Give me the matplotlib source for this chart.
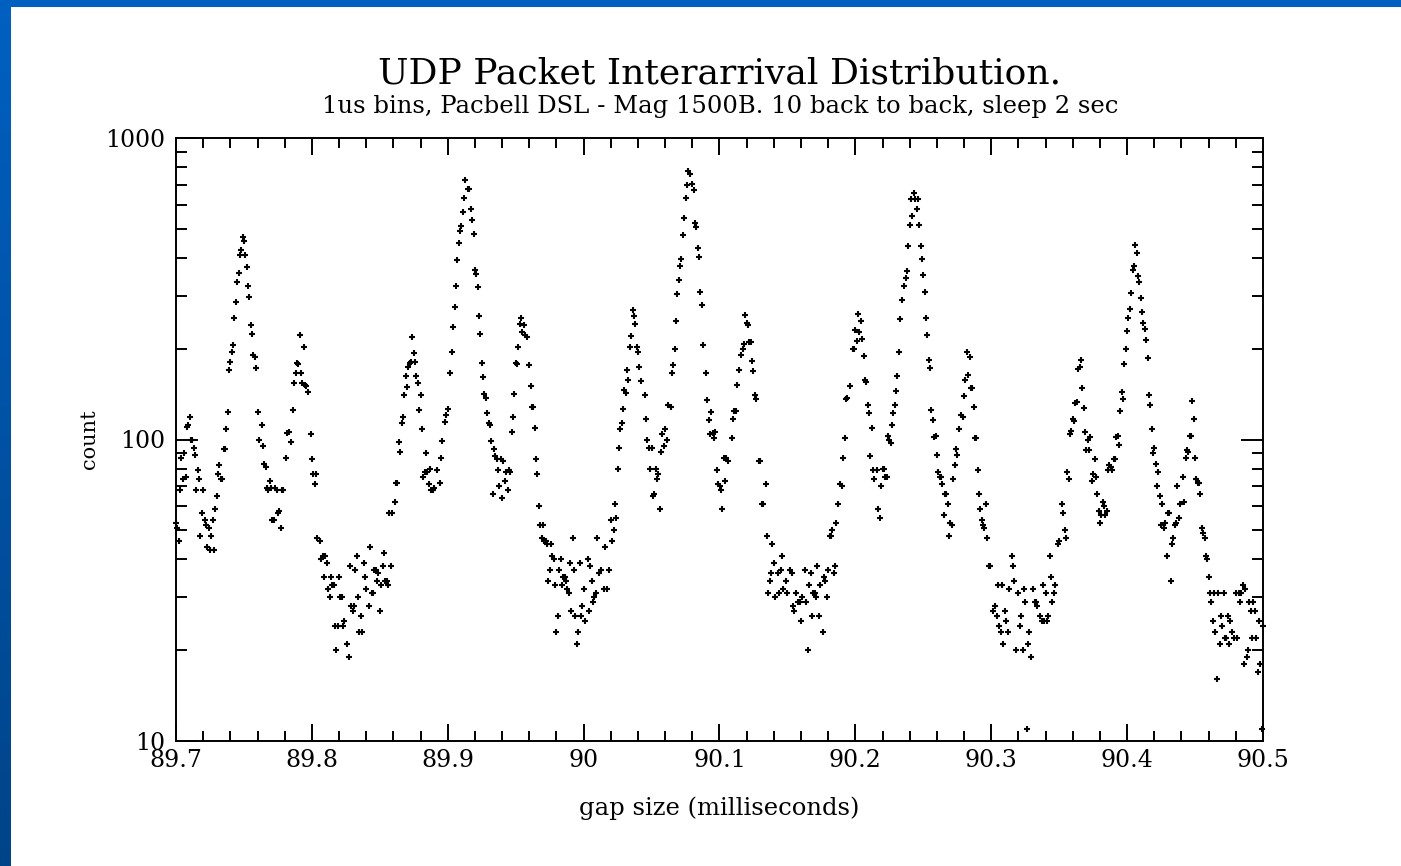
import numpy as np
import matplotlib.pyplot as plt
from matplotlib.patches import Rectangle
from matplotlib.ticker import LogLocator, NullFormatter

# gap offsets (microseconds after 89.7 ms) and bin counts
gap_us = [
    0, 1, 2, 3, 4, 5, 6, 7, 8, 9, 10, 11, 12, 13, 14, 15, 16, 17, 18, 19,
    20, 21, 22, 23, 24, 25, 26, 27, 28, 29, 30, 31, 32, 33, 34, 35, 36, 37, 38, 39,
    40, 41, 42, 43, 44, 45, 46, 47, 48, 49, 50, 51, 52, 53, 54, 55, 56, 57, 58, 59,
    60, 61, 63, 64, 65, 66, 67, 68, 69, 70, 71, 72, 73, 74, 75, 76, 77, 78, 79,
    81, 82, 83, 85, 86, 87, 88, 89, 90, 91, 92, 93, 94, 95, 96, 97, 99,
    100, 101, 102, 103, 104, 106, 107, 108, 109, 110, 111, 112, 113, 114, 115, 116, 117, 118, 119,
    120, 121, 122, 123, 124, 126, 127, 128, 129, 130, 131, 132, 133, 134, 135,
    136, 137, 138, 139, 140, 142, 143, 144, 145, 146, 147, 148, 149, 150, 151, 152, 153, 154, 155,
    156, 157, 158, 159, 161, 162, 163, 164, 165, 166, 167, 168, 169, 170, 171, 172, 173, 174, 175,
    176, 177, 178, 179, 180, 181, 182, 183, 184, 185, 186, 187, 188, 189, 190, 192, 194, 195, 196,
    198, 199, 200, 202, 203, 204, 205, 206, 207, 208, 209, 210, 211, 212, 213, 215, 216, 217, 218,
    219, 220, 221, 222, 223, 224, 225, 226, 227, 228, 229, 230, 231, 232, 233, 234, 235, 236, 237,
    238, 239, 240, 241, 242, 243, 244, 245, 246, 247, 248, 249, 250, 251, 252, 253, 254, 255, 256,
    257, 258, 260, 261, 262, 263, 264, 265, 266, 267, 268, 269,
    270, 271, 272, 273, 274, 275, 276, 277, 278, 279, 280, 281, 282, 283, 284, 285, 286, 287, 288,
    289, 290, 291, 292, 293, 294, 295, 296, 297, 298, 299, 300, 301, 303, 304, 305, 306, 307, 308,
    309, 310, 311, 313, 315, 316, 317, 319, 320, 321, 322, 323, 324, 325, 326, 327, 328, 329, 330,
    331, 332, 333, 334, 335, 336, 337, 338, 339, 340, 341, 342, 345, 346, 347, 348, 349, 350, 351,
    352, 353, 354, 355, 356, 357, 358, 359, 360, 361, 362, 364, 365, 366, 367, 368, 369, 370, 371,
    372, 373, 374, 375, 376, 377, 378, 380, 381, 382, 383, 384, 385, 386, 387, 388, 390, 391, 392,
    393, 394, 395, 396, 397, 398, 399,
    400, 401, 402, 403, 404, 405, 406, 409, 410, 411, 412, 413, 414, 416, 417, 418, 419, 420, 421,
    422, 423, 424, 425, 426, 427, 429, 430, 431, 432, 434, 435, 436, 437, 438, 439, 440, 441, 443,
    444, 445, 446, 447, 449, 450, 452, 453, 454, 455, 456, 458, 459, 460, 461, 463, 464, 465, 466,
    467, 468, 469, 470, 471, 472, 473, 474, 476, 477, 478, 479, 480, 481, 482, 483, 484, 485, 486,
    487, 489, 490, 491, 492, 493, 494, 496, 498, 499, 500, 501, 502, 503, 504, 505, 506, 507, 508,
    509, 510, 511, 512, 513, 514, 516, 517, 518, 519, 520, 521, 522, 523, 524, 525, 526, 527, 528,
    529, 530, 531, 532, 533, 534,
    536, 537, 538, 539, 540, 541, 542, 543, 544, 545, 546, 547, 548, 549, 550, 551, 552, 553, 554,
    555, 556, 557, 558, 559, 560, 561, 562, 563, 564, 565, 566, 567, 568, 569, 570, 571, 572, 573,
    574, 575, 576, 578, 579, 580, 581, 582, 583, 584, 585, 586, 587, 588, 589, 590, 591, 592, 593,
    594, 595, 596, 597, 598, 599, 601, 603, 604, 605, 606, 607, 608, 609, 610, 611, 612, 613, 615,
    616, 617, 618, 620, 621, 622, 623, 624, 625, 626, 627, 628, 629, 631, 632, 633, 634, 636, 637,
    638, 639, 640, 641, 642, 643, 644, 645, 646, 647, 649, 650, 652, 653, 654, 655, 656, 657, 658,
    659, 660, 661, 662, 663, 664, 665,
    666, 667, 668, 669, 670, 671, 672, 673, 674, 675, 676, 677, 678, 679, 680, 681, 682, 683, 684,
    685, 686, 687, 688, 689, 690, 691, 692, 693, 694, 695, 696, 697, 698, 699, 700, 701, 702, 703,
    704, 705, 706, 707, 708, 709, 710, 711, 712, 713, 714, 715, 716, 717, 718, 719, 720, 721, 722,
    723, 724, 725, 726, 727, 728, 729, 730, 731, 732, 733, 734, 735, 736, 737, 738, 739, 741, 742,
    743, 744, 745, 746, 747, 748, 749, 750, 751, 752, 753, 754, 755, 756, 757, 758, 759, 760, 761,
    762, 763, 764, 765, 766, 767, 768, 769, 770, 771, 772, 773, 774, 775, 776, 777, 779, 780, 781,
    782, 783, 784, 785, 786, 787, 788, 789, 790, 791, 792, 793, 794, 795, 796, 797, 798, 799, 800,
]

counts = [
    53, 51, 46, 68, 87, 74, 90, 75, 110, 112, 119, 100, 100, 94, 89, 68, 79, 74, 48, 57,
    68, 54, 52, 44, 51, 43, 48, 54, 43, 59, 65, 77, 82, 74, 74, 93, 93, 108, 123, 170,
    181, 195, 206, 253, 285, 333, 357, 410, 425, 468, 457, 408, 373, 324, 297, 240, 224, 191, 188, 172,
    123, 100, 112, 95, 83, 81, 69, 68, 73, 69, 54, 54, 69, 68, 57, 58, 51, 68, 68,
    87, 105, 106, 98, 125, 154, 166, 180, 178, 222, 166, 154, 202, 152, 150, 144, 104,
    86, 77, 71, 77, 47, 46, 40, 41, 35, 41, 39, 32, 30, 35, 33, 33, 24, 20, 24,
    35, 30, 30, 24, 25, 21, 19, 38, 28, 27, 28, 37, 41, 30, 23,
    26, 23, 39, 35, 32, 28, 44, 31, 31, 37, 37, 34, 36, 27, 33, 38, 42, 34, 34,
    33, 57, 38, 57, 62, 72, 72, 98, 91, 113, 119, 140, 163, 149, 174, 179, 181, 218, 193,
    181, 163, 154, 125, 141, 108, 75, 78, 90, 78, 71, 80, 68, 68, 69, 79, 72, 87, 99,
    114, 121, 126, 166, 195, 237, 276, 324, 395, 447, 492, 511, 567, 633, 728, 676, 679, 581, 536,
    482, 364, 353, 321, 256, 224, 179, 161, 142, 137, 122, 113, 112, 99, 66, 93, 88, 86, 79,
    70, 86, 64, 85, 73, 78, 68, 79, 78, 106, 119, 142, 179, 178, 202, 242, 253, 228, 240,
    222, 218, 176, 151, 128, 128, 109, 86, 77, 60, 52, 47,
    52, 46, 46, 45, 34, 37, 45, 41, 40, 33, 23, 26, 37, 40, 33, 35, 35, 34, 32,
    31, 39, 27, 47, 37, 26, 21, 23, 39, 26, 28, 32, 25, 40, 27, 38, 34, 29, 30,
    31, 47, 36, 37, 32, 44, 32, 37, 54, 46, 50, 61, 55, 80, 94, 108, 113, 126, 146,
    143, 170, 158, 203, 221, 269, 256, 242, 203, 195, 174, 156, 140, 117, 100, 94, 80, 94, 65,
    66, 80, 74, 77, 59, 91, 104, 95, 108, 100, 130, 128, 166, 176, 199, 248, 304, 337, 376,
    398, 477, 544, 633, 697, 780, 762, 706, 670, 523, 507, 433, 402, 308, 280, 206, 166, 135, 116,
    104, 123, 105, 101, 106, 79, 71,
    70, 68, 59, 87, 73, 87, 85, 101, 117, 124, 124, 152, 170, 191, 199, 208, 259, 244, 240,
    211, 211, 182, 169, 140, 136, 85, 85, 61, 61, 71, 48, 31, 34, 36, 45, 39, 30, 36,
    31, 37, 41, 32, 34, 31, 37, 36, 28, 27, 31, 29, 29, 25, 30, 37, 29, 20, 33,
    36, 26, 31, 31, 30, 38, 26, 33, 23, 35, 34, 30, 37, 48, 48, 50, 36, 38, 53,
    61, 71, 70, 87, 101, 136, 137, 150, 199, 199, 231, 212, 261, 228, 247, 215, 189, 158, 155,
    130, 122, 88, 109, 79, 74, 79, 59, 55, 70, 80, 80, 75, 75, 103, 100, 97, 112, 122,
    130, 145, 163, 195, 251, 290,
    324, 343, 361, 438, 515, 627, 551, 659, 627, 581, 627, 515, 438, 398, 350, 308, 253, 222, 183,
    172, 125, 116, 102, 103, 89, 78, 75, 75, 71, 56, 66, 66, 61, 48, 53, 52, 74, 82,
    93, 89, 108, 121, 119, 139, 158, 195, 164, 188, 148, 148, 128, 101, 101, 79, 66, 59, 54,
    52, 51, 61, 47, 38, 38, 27, 28, 26, 33, 24, 23, 33, 21, 27, 25, 23, 32, 41,
    38, 34, 20, 31, 24, 26, 20, 32, 29, 11, 21, 23, 19, 32, 29, 29, 28, 26, 25,
    33, 25, 31, 25, 26, 41, 35, 29, 31, 33, 45, 46, 61, 57, 50, 47, 78, 74, 104,
    107, 117, 115, 132, 133, 171, 174,
    183, 148, 127, 106, 92, 100, 92, 102, 73, 77, 86, 75, 66, 58, 53, 56, 62, 60, 56,
    58, 79, 82, 81, 79, 86, 86, 102, 103, 96, 124, 144, 136, 178, 200, 229, 252, 271, 306,
    364, 375, 441, 414, 348, 334, 294, 265, 243, 233, 213, 187, 140, 130, 108, 90, 94, 83, 70,
    78, 65, 52, 61, 51, 53, 41, 57, 57, 34, 45, 47, 52, 53, 70, 55, 61, 75, 62,
    87, 92, 91, 103, 103, 134, 117, 87, 74, 72, 72, 66, 51, 49, 47, 41, 40, 35, 31,
    29, 25, 31, 23, 16, 31, 21, 26, 24, 31, 22, 22, 26, 21, 25, 23, 22, 31, 22,
    31, 29, 31, 33, 18, 32, 19, 20, 29, 27, 22, 29, 27, 22, 17, 25, 18, 11, 24,
]

x_ticks = [89.7, 89.8, 89.9, 90.0, 90.1, 90.2, 90.3, 90.4, 90.5]
x_ticklabels = ['89.7', '89.8', '89.9', '90', '90.1', '90.2', '90.3', '90.4', '90.5']
y_ticks = [10, 100, 1000]
y_ticklabels = ['10', '100', '1000']

gap_ms = 89.7 + np.array(gap_us) / 1000.0

plt.rcParams['font.family'] = ['DejaVu Serif', 'Liberation Serif']

fig = plt.figure(figsize=(14.01, 8.66), dpi=100)
fig.patch.set_facecolor('white')

# slide frame: blue strip on top, gradient strip down the left side
fig.patches.append(Rectangle((0, 1 - 7 / 866), 1, 7 / 866, transform=fig.transFigure,
                             facecolor='#0060c0', edgecolor='none', zorder=0))
band = fig.add_axes([0, 0, 11 / 1401, 1 - 7 / 866])
top = np.array([0x00, 0x60, 0xc0]) / 255
bot = np.array([0x00, 0x44, 0x88]) / 255
t = np.linspace(0, 1, 200)[:, None]
grad = (top[None, :] * (1 - t) + bot[None, :] * t)[:, None, :]
band.imshow(grad, aspect='auto', extent=[0, 1, 0, 1])
band.axis('off')

ax = fig.add_axes([176 / 1401, 1 - 741 / 866, (1263 - 176) / 1401, (741 - 138) / 866])
ax.plot(gap_ms, counts, linestyle='none', marker='+', markersize=4.5,
        markeredgewidth=1.5, color='black', clip_on=False)

ax.set_yscale('log')
ax.set_xlim(89.7, 90.5)
ax.set_ylim(10, 1000)
ax.set_xticks(x_ticks)
ax.set_xticklabels(x_ticklabels)
ax.set_xticks(np.arange(89.72, 90.5, 0.02), minor=True)
ax.set_yticks(y_ticks)
ax.set_yticklabels(y_ticklabels)
ax.yaxis.set_minor_locator(LogLocator(base=10, subs=np.arange(2, 10)))
ax.yaxis.set_minor_formatter(NullFormatter())

ax.tick_params(which='both', direction='in', top=True, right=True, width=1.4,
               labelsize=17, colors='black')
ax.tick_params(axis='x', which='major', length=12, pad=6)
ax.tick_params(axis='x', which='minor', length=7)
ax.tick_params(axis='y', which='major', length=16, pad=8)
ax.tick_params(axis='y', which='minor', length=8)
for s in ax.spines.values():
    s.set_linewidth(1.4)

ax.set_xlabel('gap size (milliseconds)', fontsize=17.5)
ax.xaxis.label.set_va('center')
ax.xaxis.set_label_coords(0.5, (741 - 808) / 603)
ax.set_ylabel('count', fontsize=15)
ax.yaxis.label.set_va('center')
ax.yaxis.set_label_coords((90 - 176) / 1087, 0.5)

fig.text(720 / 1401, 1 - 73 / 866, 'UDP Packet Interarrival Distribution.',
         ha='center', va='center', fontsize=26)
fig.text(720 / 1401, 1 - 107 / 866,
         '1us bins, Pacbell DSL - Mag 1500B. 10 back to back, sleep 2 sec',
         ha='center', va='center', fontsize=17.5)

fig.savefig('out.png', dpi=100)
